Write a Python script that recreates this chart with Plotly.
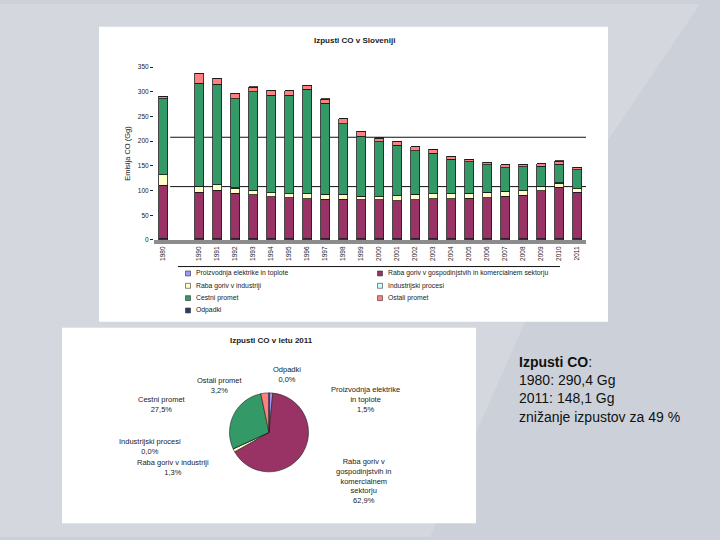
import plotly.graph_objects as go

W, H = 720, 540

# ---------------- data ----------------
years = ["1980", "1990", "1991", "1992", "1993", "1994", "1995", "1996", "1997",
         "1998", "1999", "2000", "2001", "2002", "2003", "2004", "2005", "2006",
         "2007", "2008", "2009", "2010", "2011"]

sources = ["Proizvodnja elektrike in toplote",
           "Raba goriv v gospodinjstvih in komercialnem sektorju",
           "Raba goriv v industriji",
           "Industrijski procesi",
           "Cestni promet",
           "Ostali promet",
           "Odpadki"]

proizvodnja = [3.0, 2.0, 2.0, 2.0, 2.0, 2.0, 2.0, 2.0, 2.0, 2.0, 2.0, 2.0, 2.0, 2.0,
               2.0, 2.0, 2.0, 2.0, 2.0, 2.0, 2.0, 2.0, 2.2]
gospodinjstva = [107.4, 94.5, 98.5, 93.0, 89.8, 85.2, 83.2, 81.8, 80.5, 80.5, 79.8,
                 79.8, 77.8, 79.8, 81.2, 81.8, 82.5, 83.2, 86.5, 88.5, 97.8, 104.5, 94.5]
industrija = [21.3, 12.0, 11.3, 10.0, 8.0, 8.0, 8.0, 9.3, 9.3, 9.3, 6.7, 5.3, 9.3,
              10.0, 10.0, 9.3, 9.3, 11.3, 10.0, 9.3, 8.7, 8.6, 6.6]
procesi = [0.3, 0.3, 0.3, 0.3, 0.3, 0.3, 0.3, 0.3, 0.3, 0.3, 0.3, 0.3, 0.3, 0.3,
           0.3, 0.3, 0.3, 0.3, 0.3, 0.3, 0.3, 0.3, 0.3]
cestni = [154.4, 209.0, 203.6, 181.0, 200.3, 197.6, 199.6, 211.6, 184.3, 143.1, 121.1,
          111.2, 102.4, 88.5, 81.9, 69.9, 63.9, 55.2, 47.9, 47.9, 40.0, 37.9, 38.5]
ostali = [4.0, 19.3, 10.6, 10.6, 9.3, 10.0, 8.7, 8.0, 8.7, 10.0, 10.0, 6.6, 8.0, 8.0,
          8.0, 5.3, 5.3, 5.3, 5.3, 5.3, 5.3, 5.3, 5.3]
odpadki = [0.3, 0.5, 1.5, 0.5, 0.5, 0.5, 0.5, 0.5, 0.5, 0.5, 0.5, 1.5, 0.5, 0.5,
           0.5, 0.5, 0.5, 0.5, 0.5, 0.5, 0.5, 1.5, 0.3]

series = [proizvodnja, gospodinjstva, industrija, procesi, cestni, ostali, odpadki]

yticks = [0, 50, 100, 150, 200, 250, 300, 350]
ytick_text = ["0", "50", "100", "150", "200", "250", "300", "350"]

# pie (2011 shares, %)
pie_values = [1.5, 62.9, 1.3, 0.0, 27.5, 3.2, 0.0]
pie_label_text = ["Proizvodnja elektrike<br>in toplote<br>1,5%",
                  "Raba goriv v<br>gospodinjstvih in<br>komercialnem<br>sektorju<br>62,9%",
                  "Raba goriv v industriji<br>1,3%",
                  "Industrijski procesi<br>0,0%",
                  "Cestni promet<br>27,5%",
                  "Ostali promet<br>3,2%",
                  "Odpadki<br>0,0%"]

summary_lines = ["<b>Izpusti CO</b>:", "1980: 290,4 Gg", "2011: 148,1 Gg",
                 "znižanje izpustov za 49 %"]

# ---------------- style ----------------
colors = ["#9999FF", "#993366", "#FFFFCC", "#CCFFFF", "#339966", "#FF8080", "#24406A"]
FONT = "Liberation Sans, Arial, sans-serif"

def px(x):
    return x / W

def py(y):
    return 1 - y / H

# slot positions: empty slot between 1980 and 1990
slots = [0] + list(range(2, 2 + len(years) - 1))

fig = go.Figure()
for name, vals, col in zip(sources, series, colors):
    fig.add_trace(go.Bar(
        x=slots, y=vals, name=name, width=0.5,
        marker=dict(color=col, line=dict(color="#1a1a1a", width=0.8)),
        showlegend=False, xaxis="x", yaxis="y"))

# pie 2011
pie_cx, pie_cy, pie_r = 269, 434, 40
fig.add_trace(go.Pie(
    labels=sources, values=pie_values, sort=False, direction="clockwise",
    rotation=0, textinfo="none", showlegend=False, hoverinfo="label+percent",
    marker=dict(colors=colors, line=dict(color="#222222", width=0.6)),
    domain=dict(x=[px(pie_cx - pie_r), px(pie_cx + pie_r)],
                y=[py(pie_cy + pie_r), py(pie_cy - pie_r)])))

shapes = []
# slide background lighter facet
shapes.append(dict(type="path", xref="paper", yref="paper", layer="below",
                   path="M 0 1 L %f 1 L %f %f L %f 0 L 0 0 Z" % (px(700), px(600), py(150), px(430)),
                   fillcolor="#d4d8de", line=dict(width=0)))
# white picture boxes
shapes.append(dict(type="rect", xref="paper", yref="paper", layer="below",
                   x0=px(99), x1=px(608), y0=py(322), y1=py(23),
                   fillcolor="white", line=dict(width=0)))
shapes.append(dict(type="rect", xref="paper", yref="paper", layer="below",
                   x0=px(62), x1=px(476), y0=py(526), y1=py(328),
                   fillcolor="white", line=dict(width=0)))
# back-wall grid lines (3D offset)
for gy in (108, 208):
    shapes.append(dict(type="line", xref="x", yref="y", layer="below",
                       x0=0.4, x1=23.6, y0=gy, y1=gy,
                       line=dict(color="#111111", width=1)))
# line above the legend
shapes.append(dict(type="line", xref="paper", yref="paper",
                   x0=px(178), x1=px(560), y0=py(266), y1=py(266),
                   line=dict(color="#111111", width=1)))

annotations = []
# legend (two columns)
for i, (name, col) in enumerate(zip(sources, colors)):
    cx = 188 if i % 2 == 0 else 380
    row = i // 2
    cy = 273 + 12.5 * row
    shapes.append(dict(type="rect", xref="paper", yref="paper",
                       x0=px(cx - 2.5), x1=px(cx + 2.5), y0=py(cy + 2.5), y1=py(cy - 2.5),
                       fillcolor=col, line=dict(color="#333333", width=0.6)))
    annotations.append(dict(xref="paper", yref="paper", x=px(cx + 6), y=py(cy),
                            xanchor="left", yanchor="middle", showarrow=False,
                            text=name, font=dict(family=FONT, size=6.8, color="#222222")))

# chart titles
annotations.append(dict(xref="paper", yref="paper", x=px(354), y=py(37), showarrow=False,
                        xanchor="center", yanchor="middle",
                        text="<b>Izpusti CO v Sloveniji</b>",
                        font=dict(family=FONT, size=8, color="#222222")))
annotations.append(dict(xref="paper", yref="paper", x=px(271), y=py(341), showarrow=False,
                        xanchor="center", yanchor="middle",
                        text="<b>Izpusti CO v letu 2011</b>",
                        font=dict(family=FONT, size=8, color="#222222")))

# pie labels
pie_label_pos = [(365, 401), (363, 483), (173, 470), (150, 448), (162, 406), (220, 387), (287, 375)]
for txt, (lx, ly) in zip(pie_label_text, pie_label_pos):
    annotations.append(dict(xref="paper", yref="paper", x=px(lx), y=py(ly), showarrow=False,
                            xanchor="center", yanchor="middle",
                            text=txt, align="center",
                            font=dict(family=FONT, size=7.5, color="#222222")))

# summary text
annotations.append(dict(xref="paper", yref="paper", x=px(517), y=py(390.5),
                        xanchor="left", yanchor="middle", showarrow=False, align="left",
                        text="<br>".join(summary_lines),
                        font=dict(family=FONT, size=14, color="#111111")))

fig.update_layout(
    width=W, height=H, margin=dict(l=0, r=0, t=0, b=0),
    paper_bgcolor="#ccd1d9", plot_bgcolor="rgba(0,0,0,0)",
    barmode="stack", bargap=0.5,
    font=dict(family=FONT, color="#222222"),
    xaxis=dict(domain=[px(154), px(586)], range=[-0.5, 23.5],
               tickvals=slots, ticktext=years, tickangle=-90,
               tickfont=dict(size=6.5, family=FONT, color="#222222"),
               showgrid=False, zeroline=False, showline=True,
               linecolor="#8c8c8c", linewidth=4, ticks=""),
    yaxis=dict(domain=[py(239), py(64)], range=[0, 350],
               tickvals=yticks, ticktext=ytick_text,
               tickfont=dict(size=6.5, family=FONT, color="#222222"),
               ticks="outside", ticklen=3, tickcolor="#222222",
               showgrid=False, zeroline=False, showline=False,
               title=dict(text="Emisija CO (Gg)", standoff=6,
                          font=dict(size=7.5, family=FONT, color="#222222"))),
    shapes=shapes, annotations=annotations,
)

fig.write_html("out.html", config={"displayModeBar": False},
               post_script="document.body.style.margin='0';document.body.style.overflow='hidden';")
